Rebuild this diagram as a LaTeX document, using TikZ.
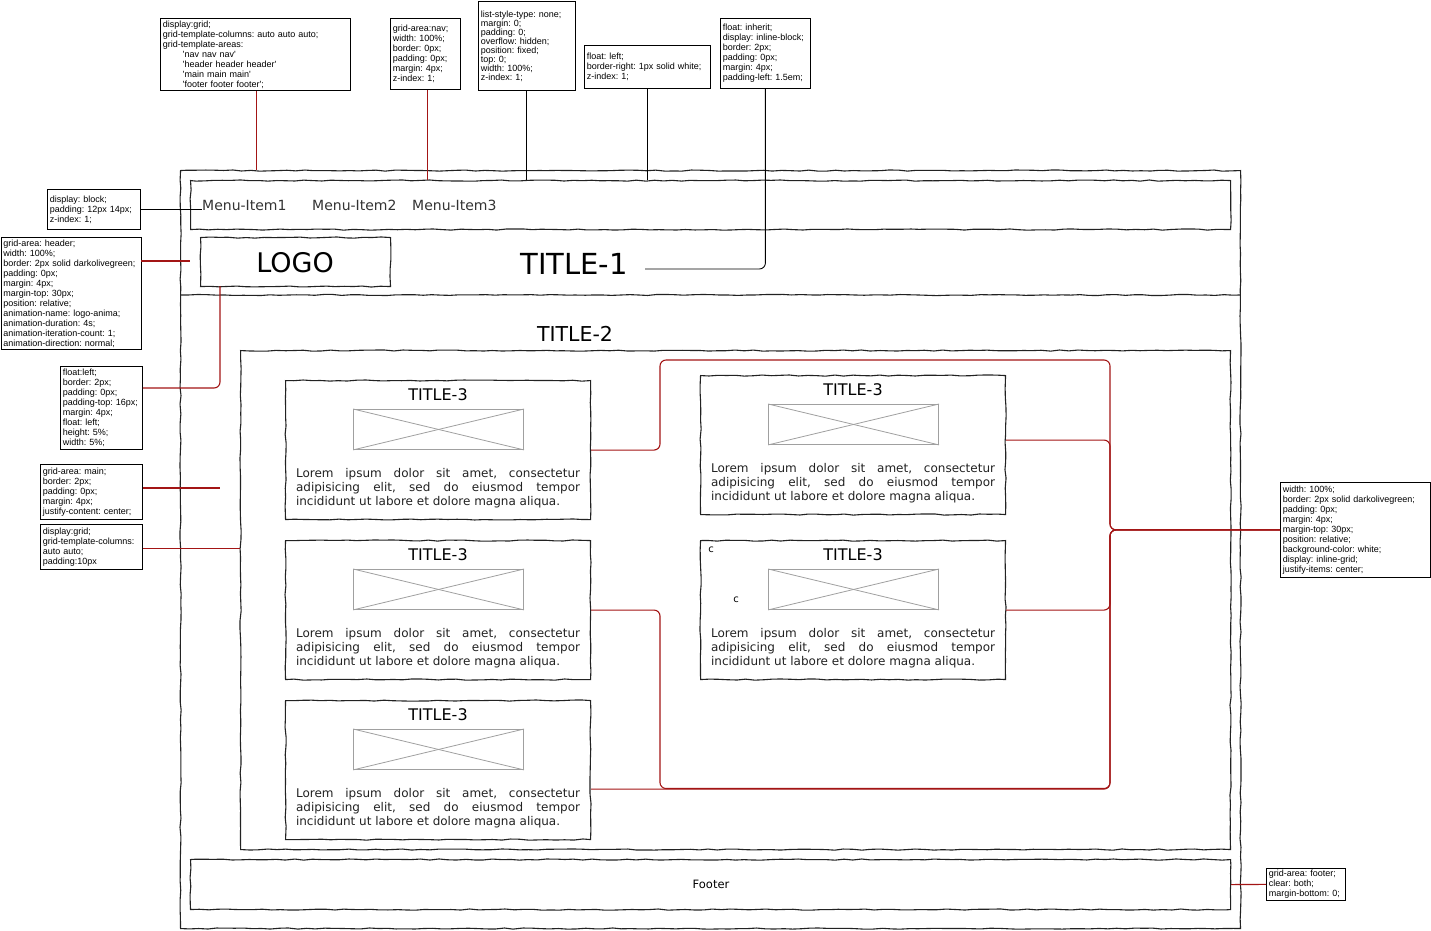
\documentclass[tikz,border=0pt]{standalone}
\usepackage{fontspec}
\setmainfont{DejaVu Sans}
\newfontfamily\annofont{Liberation Sans}
\usetikzlibrary{decorations.pathmorphing,calc}
\definecolor{conred}{HTML}{A31515}
\definecolor{sk}{HTML}{222222}
\definecolor{imggray}{HTML}{A0A0A0}
\definecolor{menugray}{HTML}{333333}
\frenchspacing

\newcommand\mkcard[3]{%
  \node[sketch, anchor=north west, minimum width=305pt, minimum height=139pt, inner sep=0pt] (#1) at (#2,#3) {};
  \node[font=\fontsize{16}{16}\selectfont, inner sep=0pt] (#1t) at ($(#1.north)+(0,14.5)$) {TITLE-3};
  \node[draw=imggray, line width=0.9pt, anchor=north, minimum width=170pt, minimum height=40pt, inner sep=0pt] (#1i) at ($(#1.north)+(0.5,29)$) {};
  \draw[imggray, line width=0.8pt] (#1i.north west) -- (#1i.south east);
  \draw[imggray, line width=0.8pt] (#1i.south west) -- (#1i.north east);
  \node[anchor=north, text width=284pt, align=justify, inner sep=0pt, text=sk,
        font=\fontsize{12}{14}\selectfont] (#1p) at ($(#1.north)+(0,88)$)
   {Lorem ipsum dolor sit amet, consectetur\linebreak adipisicing elit, sed do eiusmod tempor\linebreak incididunt ut labore et dolore magna aliqua.};
}

\begin{document}
\begin{tikzpicture}[x=1pt,y=-1pt,
  sketch/.style={draw=sk, line width=1.1pt, decorate,
    decoration={random steps,segment length=9pt,amplitude=0.6pt}},
  anno/.style={draw=black, line width=0.8pt, anchor=north west, inner xsep=2.5pt,
    inner ysep=1pt, align=left, font=\annofont\fontsize{9}{10}\selectfont},
  redline/.style={draw=conred, line width=1.1pt, rounded corners=6pt},
  blkline/.style={draw=black, line width=0.9pt, rounded corners=6pt},
]
\pgfmathsetseed{42}
\fill[white] (0,0) rectangle (1431,930);
\useasboundingbox (0,0) rectangle (1431,930);

% ---------- wireframe ----------
\node[sketch, anchor=north west, minimum width=1060pt, minimum height=758pt, inner sep=0pt] (frame) at (180,170) {};
\draw[sketch] (180,295) -- (1240,295);
\node[sketch, anchor=north west, minimum width=1040pt, minimum height=49pt, inner sep=0pt] (nav) at (190,180) {};
\node[anchor=west, inner sep=0pt, text=menugray, font=\fontsize{14}{14}\selectfont] (m1) at (202,205) {Menu-Item1};
\node[anchor=west, inner sep=0pt, text=menugray, font=\fontsize{14}{14}\selectfont] (m2) at (312,205) {Menu-Item2};
\node[anchor=west, inner sep=0pt, text=menugray, font=\fontsize{14}{14}\selectfont] (m3) at (412,205) {Menu-Item3};

\node[sketch, anchor=north west, minimum width=190pt, minimum height=49pt, inner sep=0pt] (logo) at (200,237) {};
\node[inner sep=0pt, font=\fontsize{27}{27}\selectfont] (logot) at (295,263) {LOGO};
\node[inner sep=0pt, font=\fontsize{29}{29}\selectfont] (t1) at (574,264) {TITLE-1};
\node[inner sep=0pt, font=\fontsize{20.5}{20.5}\selectfont] (t2) at (575,333.5) {TITLE-2};

\node[sketch, anchor=north west, minimum width=990pt, minimum height=499pt, inner sep=0pt] (main) at (240,350) {};

\mkcard{L1}{285}{380}
\mkcard{L2}{285}{540}
\mkcard{L3}{285}{700}
\mkcard{R1}{700}{375}
\mkcard{R2}{700}{540}
\node[inner sep=0pt, font=\fontsize{10}{10}\selectfont] (c1) at (711,550) {c};
\node[inner sep=0pt, font=\fontsize{10}{10}\selectfont] (c2) at (736,600) {c};

\node[sketch, anchor=north west, minimum width=1040pt, minimum height=50pt, inner sep=0pt] (footer) at (190,859) {};
\node[inner sep=0pt, font=\fontsize{11.5}{11.5}\selectfont] (foott) at (711,884) {Footer};

% ---------- annotations ----------
\node[anno, text width=185pt, minimum height=72pt] (A1) at (160,18) {display:grid;\\grid-template-columns: auto auto auto;\\grid-template-areas:\\\hspace*{20pt}\textquotesingle nav nav nav\textquotesingle\\\hspace*{20pt}\textquotesingle header header header\textquotesingle\\\hspace*{20pt}\textquotesingle main main main\textquotesingle\\\hspace*{20pt}\textquotesingle footer footer footer\textquotesingle;};
\node[anno, text width=65pt, minimum height=71pt] (A2) at (390,18) {grid-area:nav;\\width: 100\%;\\border: 0px;\\padding: 0px;\\margin: 4px;\\z-index: 1;};
\node[anno, text width=92pt, minimum height=89pt, font=\annofont\fontsize{9}{9}\selectfont] (A3) at (478,1) {list-style-type: none;\\margin: 0;\\padding: 0;\\overflow: hidden;\\position: fixed;\\top: 0;\\width: 100\%;\\z-index: 1;};
\node[anno, text width=121pt, minimum height=43pt] (A4) at (584,45) {float: left;\\border-right: 1px solid white;\\z-index: 1;};
\node[anno, text width=85pt, minimum height=70pt] (A5) at (720,18) {float: inherit;\\display: inline-block;\\border: 2px;\\padding: 0px;\\margin: 4px;\\padding-left: 1.5em;};

\node[anno, text width=88pt, minimum height=40pt] (B1) at (47,189) {display: block;\\padding: 12px 14px;\\z-index: 1;};
\node[anno, text width=135pt, minimum height=112pt] (B2) at (0.5,237) {grid-area: header;\\width: 100\%;\\border: 2px solid darkolivegreen;\\padding: 0px;\\margin: 4px;\\margin-top: 30px;\\position: relative;\\animation-name: logo-anima;\\animation-duration: 4s;\\animation-iteration-count: 1;\\animation-direction: normal;};
\node[anno, text width=77pt, minimum height=83pt] (B3) at (60,366) {float:left;\\border: 2px;\\padding: 0px;\\padding-top: 16px;\\margin: 4px;\\float: left;\\height: 5\%;\\width: 5\%;};
\node[anno, text width=97pt, minimum height=55pt] (B4) at (40,464) {grid-area: main;\\border: 2px;\\padding: 0px;\\margin: 4px;\\justify-content: center;};
\node[anno, text width=97pt, minimum height=45pt] (B5) at (40,524) {display:grid;\\grid-template-columns:\\auto auto;\\padding:10px};

\node[anno, text width=145pt, minimum height=95pt] (C1) at (1280,482) {width: 100\%;\\border: 2px solid darkolivegreen;\\padding: 0px;\\margin: 4px;\\margin-top: 30px;\\position: relative;\\background-color: white;\\display: inline-grid;\\justify-items: center;};
\node[anno, text width=74pt, minimum height=32pt] (C2) at (1266,868) {grid-area: footer;\\clear: both;\\margin-bottom: 0;};

% ---------- connectors ----------
\coordinate (t1p) at (645,269);
\coordinate (hdrL) at (190,261);
\coordinate (logoB) at (220,286);
\coordinate (mainL) at (220,488);
\path (C1.west) ++(-170,0) coordinate (J);

\draw[redline] ([xshift=1pt]A1.south) -- ([xshift=1pt]A1.south |- frame.north);
\draw[redline] ([xshift=2pt]A2.south) -- ([xshift=2pt]A2.south |- nav.north);
\draw[blkline] (A3.south) -- (A3.south |- nav.north);
\draw[blkline] (A4.south) -- (A4.south |- nav.north);
\draw[blkline] (A5.south) |- (t1p);

\draw[blkline] ([yshift=-0.5pt]B1.east) -- ([yshift=-0.5pt]B1.east -| m1.west);
\draw[redline] (B2.east |- hdrL) -- (hdrL);
\draw[redline] (logoB) |- (B3.east |- 0,388);
\draw[redline] (B4.east |- mainL) -- (mainL);
\draw[redline] ([yshift=-1.5pt]B5.east) -- ([yshift=-1.5pt]B5.east -| main.west);
\draw[redline] (footer.east) -- (C2.west);

\draw[redline] (L1.east) -| (660,360) -| (J) -- (C1.west);
\draw[redline] ([yshift=5pt]R1.east) -| (J) -- (C1.west);
\draw[redline] (R2.east) -| (J) -- (C1.west);
\draw[redline] (L2.east) -| (660,788.5) -| (J) -- (C1.west);
\draw[redline] ([yshift=-19pt]L3.east) -| (J) -- (C1.west);
\end{tikzpicture}
\end{document}
